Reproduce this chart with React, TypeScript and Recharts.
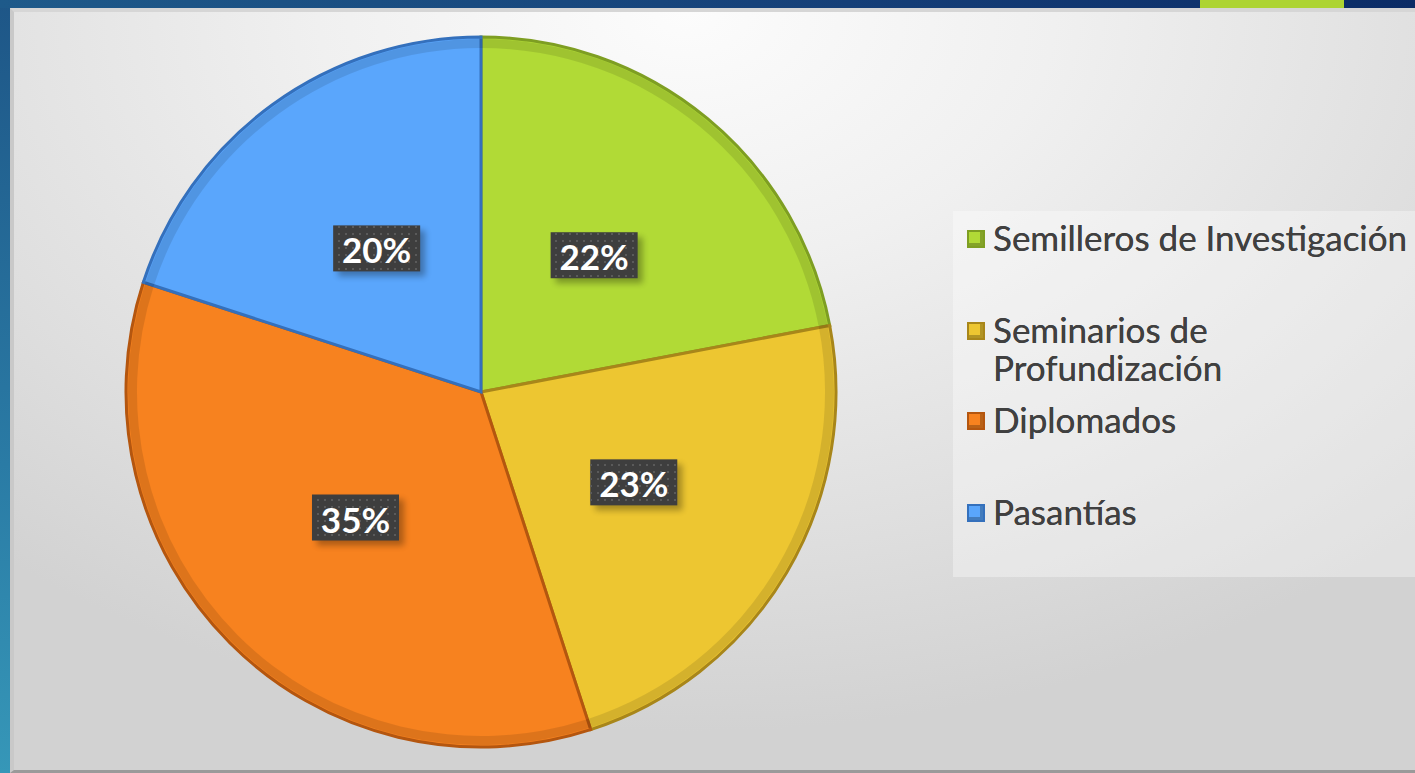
import React from "react";
import { PieChart, Pie, Cell, Legend } from "recharts";

const categories = [
  "Semilleros de Investigación",
  "Seminarios de Profundización",
  "Diplomados",
  "Pasantías",
];
const values = [22, 23, 35, 20];
const fills = ["#B1DA36", "#EDC631", "#F7821F", "#5AA6FC"];
const strokes = ["#7E9E22", "#A8861A", "#B4560F", "#3470BC"];

const data = categories.map((name, i) => ({ name, value: values[i] }));

const RADIAN = Math.PI / 180;

const renderLabel = (props: any) => {
  const { cx, cy, midAngle, outerRadius, percent } = props;
  const r = outerRadius * 0.5;
  const x = cx + r * Math.cos(-midAngle * RADIAN);
  const y = cy + r * Math.sin(-midAngle * RADIAN);
  const w = 87;
  const h = 46;
  return (
    <g>
      <rect x={x - w / 2 + 5} y={y - h / 2 + 5} width={w} height={h} fill="#000" opacity={0.3} filter="url(#blurShadow)" />
      <rect x={x - w / 2} y={y - h / 2} width={w} height={h} fill="#3E3E3E" />
      <rect x={x - w / 2} y={y - h / 2} width={w} height={h} fill="url(#dots)" />
      <text
        x={x}
        y={y + 1}
        fill="#FFFFFF"
        textAnchor="middle"
        dominantBaseline="central"
        fontFamily="Lato, 'DejaVu Sans', sans-serif"
        fontWeight={700}
        fontSize={35}
      >
        {`${Math.round(percent * 100)}%`}
      </text>
    </g>
  );
};

const itemTops = [0, 92, 182, 274];

const renderLegend = (props: any) => {
  const payload = [...(props.payload || [])].sort(
    (a: any, b: any) => categories.indexOf(a.value) - categories.indexOf(b.value)
  );
  return (
    <div
      style={{
        position: "relative",
        width: 462,
        height: 366,
        background: "rgba(255,255,255,0.35)",
        fontFamily: "Lato, 'DejaVu Sans', sans-serif",
      }}
    >
      {payload.map((entry: any) => {
        const i = categories.indexOf(entry.value);
        return (
          <div
            key={entry.value}
            style={{
              position: "absolute",
              left: 14,
              top: 7 + itemTops[i],
              display: "flex",
              alignItems: "flex-start",
            }}
          >
            <div
              style={{
                width: 14,
                height: 14,
                marginTop: 12,
                background: fills[i],
                border: `2px solid ${strokes[i]}`,
                boxShadow: "inset -3px -3px 0 rgba(0,0,0,0.25)",
              }}
            />
            <div
              style={{
                marginLeft: 8,
                fontSize: 35,
                lineHeight: "38px",
                color: "#404040",
                whiteSpace: i === 1 ? "normal" : "nowrap",
                width: i === 1 ? 280 : 440,
              }}
            >
              {entry.value}
            </div>
          </div>
        );
      })}
    </div>
  );
};

export default function App() {
  return (
    <div
      style={{
        position: "absolute",
        left: 0,
        top: 0,
        width: 1415,
        height: 773,
        overflow: "hidden",
        background: "linear-gradient(180deg, #1E5687 0%, #2A7BA5 60%, #3697B8 100%)",
      }}
    >
      <div
        style={{
          position: "absolute",
          left: 0,
          top: 0,
          width: 1415,
          height: 8,
          background: "linear-gradient(90deg, #1E5A8A 0%, #153F78 60%, #0B2C66 100%)",
        }}
      />
      <div style={{ position: "absolute", left: 1200, top: 0, width: 144, height: 8, background: "#ADD433" }} />
      <div
        style={{
          position: "absolute",
          left: 10,
          top: 8,
          width: 1405,
          height: 765,
          boxSizing: "border-box",
          borderLeft: "4px solid #C9C9C9",
          borderTop: "4px solid #D6D6D6",
          borderBottom: "3px solid #9A9A9A",
          background:
            "radial-gradient(ellipse 75% 95% at 48% 0%, #FCFCFC 0%, #F0F0F0 35%, #DEDEDE 75%, #D2D2D2 100%)",
        }}
      />
      <div style={{ position: "absolute", left: 0, top: 0 }}>
        <PieChart width={1415} height={773} margin={{ top: 0, right: 0, bottom: 0, left: 0 }}>
          <defs>
            <pattern id="dots" width="7" height="7" patternUnits="userSpaceOnUse">
              <rect x="2" y="2" width="2" height="2" fill="#5A5A5A" />
            </pattern>
            <filter id="blurShadow" x="-20%" y="-20%" width="140%" height="140%">
              <feGaussianBlur stdDeviation="3" />
            </filter>
          </defs>
          <Pie
            data={data}
            dataKey="value"
            nameKey="name"
            cx={481}
            cy={392}
            outerRadius={355}
            startAngle={90}
            endAngle={-270}
            label={renderLabel}
            labelLine={false}
            isAnimationActive={false}
          >
            {data.map((d, i) => (
              <Cell key={d.name} fill={fills[i]} stroke={strokes[i]} strokeWidth={3} />
            ))}
          </Pie>
          <Pie
            data={data}
            dataKey="value"
            nameKey="name"
            cx={481}
            cy={392}
            innerRadius={344}
            outerRadius={353}
            startAngle={90}
            endAngle={-270}
            legendType="none"
            isAnimationActive={false}
            stroke="none"
          >
            {data.map((d, i) => (
              <Cell key={d.name} fill="rgba(0,0,0,0.10)" stroke="none" />
            ))}
          </Pie>
          <Legend
            layout="vertical"
            align="right"
            verticalAlign="middle"
            content={renderLegend}
            wrapperStyle={{ position: "absolute", left: 953, top: 211, width: 462, height: 366 }}
          />
        </PieChart>
      </div>
    </div>
  );
}
